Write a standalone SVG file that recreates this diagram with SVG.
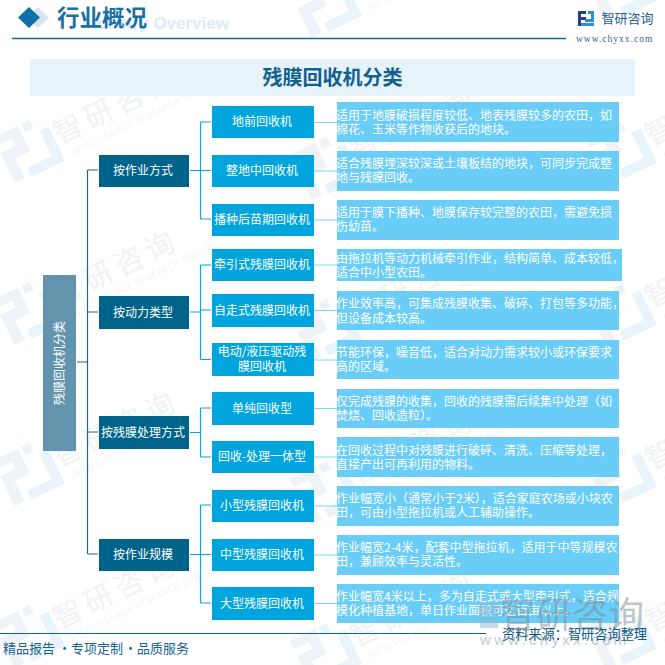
<svg xmlns="http://www.w3.org/2000/svg" xmlns:xlink="http://www.w3.org/1999/xlink" width="665" height="665" viewBox="0 0 665 665">
<style>
text{font-family:"Noto Sans CJK SC","Liberation Sans",sans-serif}
.l1 rect{fill:#00648a}.l2 rect{fill:#00a5de}.d rect{fill:#6acdf7}
.n text{fill:#fff;font-size:12px;text-anchor:middle}
.d text{fill:#fff;font-size:12px}
.c0{fill:none;stroke:#1a6a90;stroke-width:1.2}
.c1{fill:none;stroke:#0aa5dc;stroke-width:1.2}
.c2{fill:none;stroke:#80d8f8;stroke-width:1.2}
.wt{fill:#f1f2f5;font-size:29px;letter-spacing:5px}
.ws{fill:#f3f4f6;font-size:8.500px;letter-spacing:.9px}
</style>
<defs>
<g id="wm" transform="rotate(-26)">
<path d="M-72-24h28v28h-17v22h-11V-7h17v-8h-17z" fill="#eff2f7"/>
<path d="M-40-24h9v9h-9zM-27-10h10v38h-37v-10h27z" fill="#e9f4fa"/>
<text class="wt" x="-15" y="11">智研咨询</text>
<text class="ws" x="-8" y="27">INTELLIGENCE RESEARCH GROUP</text>
</g>
</defs>
<rect width="665" height="665" fill="#fff"/>
<g id="watermarks">
<use xlink:href="#wm" x="68" y="128"/><use xlink:href="#wm" x="68" y="290"/><use xlink:href="#wm" x="68" y="451"/><use xlink:href="#wm" x="68" y="613"/>
<use xlink:href="#wm" x="365" y="-17"/><use xlink:href="#wm" x="365" y="145"/><use xlink:href="#wm" x="365" y="307"/><use xlink:href="#wm" x="365" y="469"/><use xlink:href="#wm" x="365" y="631"/>
<use xlink:href="#wm" x="660" y="130"/><use xlink:href="#wm" x="660" y="292"/><use xlink:href="#wm" x="660" y="454"/><use xlink:href="#wm" x="660" y="616"/><use xlink:href="#wm" x="660" y="-32"/>
</g>
<g id="header">
<text x="229" y="29" text-anchor="end" font-size="17" font-weight="700" fill="#dcebf7" style="font-family:'Liberation Sans',sans-serif">Industry Overview</text>
<polygon points="38,7 49,17.500 38,28 27,17.500" fill="#d6e6f1"/>
<polygon points="29,7 40,17.500 29,28 18,17.500" fill="#1170aa"/>
<text x="57" y="26" font-size="22.500" font-weight="700" fill="#1a6fa5">行业概况</text>
<path d="M12 38.500H566" stroke="#0f6aa5" stroke-width="1.300"/>
<path d="M578 11h8v3h-5v3h5v3h-5v6h-3z" fill="#243f86"/>
<path d="M588 11h6v11h-9v-3h6v-5h-3zM581 23h13v3h-13z" fill="#2f8fd6"/>
<text x="601.500" y="22.500" font-size="13" fill="#1f5f94">智研咨询</text>
<text x="576" y="41.500" font-size="9.500" letter-spacing="1" fill="#33638f" style="font-family:'Liberation Serif',serif">www.chyxx.com</text>
</g>
<g id="title">
<rect x="30" y="59" width="605" height="37" fill="#e6f3fb"/>
<text x="332.500" y="85" font-size="20" font-weight="700" text-anchor="middle" fill="#14608e">残膜回收机分类</text>
</g>
<g id="connectors">
<path class="c0" d="M87.500 170H98M87.500 312H98M87.500 432H98M87.500 554H98M87.500 170V554M77 362H87.500"/>
<path class="c1" d="M190 170.500H200.500M200.500 122V219M200.500 122H211M200.500 170.500H211M200.500 219H211"/>
<path class="c1" d="M190 312H200.500M200.500 265V359.500M200.500 265H211M200.500 310H211M200.500 359.500H211"/>
<path class="c1" d="M190 432.500H200.500M200.500 408V457M200.500 408H211M200.500 457H211"/>
<path class="c1" d="M190 554.500H200.500M200.500 505V603M200.500 505H211M200.500 554.500H211M200.500 603H211"/>
<path class="c2" d="M314 122.500H337M314 171H337M314 220H337M314 265H337M314 310.500H337M314 360H337M314 408.500H337M314 457H337M314 506H337M314 555H337M314 603.500H337"/>
</g>
<g id="root" class="n"><rect x="43" y="275" width="33" height="176" fill="#6295ad"/><text transform="translate(64 363) rotate(-90)">残膜回收机分类</text></g>
<g id="n-a" class="n l1"><rect x="99" y="155" width="90" height="32"/><text x="143" y="175">按作业方式</text></g>
<g id="n-b" class="n l1"><rect x="99" y="296" width="90" height="33"/><text x="143" y="316.500">按动力类型</text></g>
<g id="n-c" class="n l1"><rect x="99" y="416" width="90" height="33"/><text x="143" y="436.500">按残膜处理方式</text></g>
<g id="n-d" class="n l1"><rect x="99" y="539" width="90" height="32"/><text x="143" y="559">按作业规模</text></g>
<g id="a1" class="n l2"><rect x="212" y="106" width="102" height="32"/><text x="262" y="126">地前回收机</text></g>
<g id="a2" class="n l2"><rect x="212" y="155" width="102" height="32"/><text x="262" y="175">整地中回收机</text></g>
<g id="a3" class="n l2"><rect x="212" y="204" width="102" height="32"/><text x="262" y="224">播种后苗期回收机</text></g>
<g id="b1" class="n l2"><rect x="212" y="249" width="102" height="32"/><text x="262" y="269">牵引式残膜回收机</text></g>
<g id="b2" class="n l2"><rect x="212" y="294" width="102" height="33"/><text x="262" y="315">自走式残膜回收机</text></g>
<g id="b3" class="n l2"><rect x="212" y="343" width="102" height="33"/><text x="262" y="356">电动/液压驱动残</text><text x="262" y="371">膜回收机</text></g>
<g id="c1" class="n l2"><rect x="212" y="392" width="102" height="33"/><text x="262" y="412.500">单纯回收型</text></g>
<g id="c2" class="n l2"><rect x="212" y="441" width="102" height="32"/><text x="262" y="461">回收-处理一体型</text></g>
<g id="d1" class="n l2"><rect x="212" y="490" width="102" height="32"/><text x="262" y="510">小型残膜回收机</text></g>
<g id="d2" class="n l2"><rect x="212" y="539" width="102" height="32"/><text x="262" y="559">中型残膜回收机</text></g>
<g id="d3" class="n l2"><rect x="212" y="587" width="102" height="33"/><text x="262" y="607.500">大型残膜回收机</text></g>
<g id="da1" class="d"><rect x="337" y="102" width="282" height="40"/><text x="336" y="120">适用于地膜破损程度较低、地表残膜较多的农田，如</text><text x="336" y="134">棉花、玉米等作物收获后的地块。</text></g>
<g id="da2" class="d"><rect x="337" y="151" width="282" height="40"/><text x="336" y="168">适合残膜埋深较深或土壤板结的地块，可同步完成整</text><text x="336" y="182">地与残膜回收。</text></g>
<g id="da3" class="d"><rect x="337" y="200" width="282" height="40"/><text x="336" y="217">适用于膜下播种、地膜保存较完整的农田，需避免损</text><text x="336" y="231">伤幼苗。</text></g>
<g id="db1" class="d"><rect x="337" y="249" width="285" height="32"/><text x="336" y="263">由拖拉机等动力机械牵引作业，结构简单、成本较低，</text><text x="336" y="277">适合中小型农田。</text></g>
<g id="db2" class="d"><rect x="337" y="291" width="282" height="39"/><text x="336" y="308">作业效率高，可集成残膜收集、破碎、打包等多功能，</text><text x="336" y="323">但设备成本较高。</text></g>
<g id="db3" class="d"><rect x="337" y="340" width="282" height="39"/><text x="336" y="357">节能环保，噪音低，适合对动力需求较小或环保要求</text><text x="336" y="371">高的区域。</text></g>
<g id="dc1" class="d"><rect x="337" y="389" width="282" height="39"/><text x="336" y="406">仅完成残膜的收集，回收的残膜需后续集中处理（如</text><text x="336" y="420">焚烧、回收造粒）。</text></g>
<g id="dc2" class="d"><rect x="337" y="437" width="282" height="40"/><text x="336" y="455">在回收过程中对残膜进行破碎、清洗、压缩等处理，</text><text x="336" y="469">直接产出可再利用的物料。</text></g>
<g id="dd1" class="d"><rect x="337" y="486" width="282" height="40"/><text x="336" y="503">作业幅宽小（通常小于2米），适合家庭农场或小块农</text><text x="336" y="517">田，可由小型拖拉机或人工辅助操作。</text></g>
<g id="dd2" class="d"><rect x="337" y="535" width="282" height="40"/><text x="336" y="552">作业幅宽2-4米，配套中型拖拉机，适用于中等规模农</text><text x="336" y="566">田，兼顾效率与灵活性。</text></g>
<g id="dd3" class="d"><rect x="337" y="584" width="282" height="39"/><text x="336" y="601">作业幅宽4米以上，多为自走式或大型牵引式，适合规</text><text x="336" y="615">模化种植基地，单日作业面积可达百亩以上。</text></g>
<g id="stamp" opacity=".5">
<path d="M480 603h8v12h-8zM490 603h8v12h-8zM480 617h18v11h-18z" fill="#8fb4cc"/>
<text x="500" y="628" font-size="36" fill="#7d8c96">智研咨询</text>
<text x="480" y="645" font-size="15" letter-spacing="3.300" fill="#8c989f" style="font-family:'Liberation Sans',sans-serif">www.chyxx.com</text>
</g>
<g id="footer">
<path d="M0 633.500H486" stroke="#14608a" stroke-width="1.200"/>
<text x="3" y="653" font-size="13" fill="#14648f"><tspan x="3">精品报告</tspan><tspan x="58">·</tspan><tspan x="71">专项定制</tspan><tspan x="124">·</tspan><tspan x="137">品质服务</tspan></text>
<text x="502" y="639" font-size="13.200" fill="#0e5a86">资料来源：智研咨询整理</text>
</g>
</svg>
